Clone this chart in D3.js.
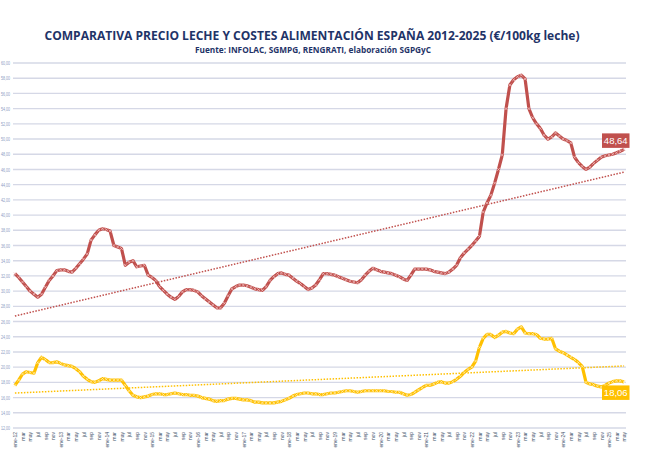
<!DOCTYPE html>
<html><head><meta charset="utf-8">
<script src="https://cdn.jsdelivr.net/npm/d3@7/dist/d3.min.js"></script>
<style>html,body{margin:0;padding:0;background:#fff;overflow:hidden}</style>
</head><body>
<svg id="chart" width="652" height="450"></svg>
<script>
const title = "COMPARATIVA PRECIO LECHE Y COSTES ALIMENTACIÓN ESPAÑA 2012-2025 (€/100kg leche)";
const subtitle = "Fuente: INFOLAC,  SGMPG,  RENGRATI,  elaboración  SGPGyC";
const monthNames = ["ene","feb","mar","abr","may","jun","jul","ago","sep","oct","nov","dic"];
const years = [12,13,14,15,16,17,18,19,20,21,22,23,24,25];
const yTicks = [12,14,16,18,20,22,24,26,28,30,32,34,36,38,40,42,44,46,48,50,52,54,56,58,60];

const milkPrice = [
 32.3,31.8,31.2,30.6,30.0,29.6,29.2,29.6,30.5,31.4,32.0,32.7,
 32.8,32.8,32.6,32.5,33.0,33.6,34.2,34.9,36.7,37.4,38.0,38.2,
 38.1,37.9,36.0,35.8,35.6,33.4,33.8,34.0,33.2,33.3,33.4,32.1,
 31.8,31.4,30.6,30.1,29.6,29.2,28.9,29.3,29.9,30.2,30.2,30.1,
 29.9,29.4,29.0,28.6,28.2,27.8,27.8,28.4,29.4,30.3,30.6,30.8,
 30.8,30.7,30.5,30.3,30.2,30.1,30.6,31.4,31.9,32.3,32.4,32.2,
 32.1,31.7,31.3,31.0,30.6,30.2,30.4,30.8,31.5,32.3,32.3,32.2,
 32.1,31.9,31.7,31.5,31.3,31.2,31.1,31.5,32.1,32.6,33.0,32.8,
 32.6,32.5,32.4,32.3,32.1,31.9,31.6,31.4,32.1,32.9,32.9,32.9,
 32.9,32.8,32.6,32.5,32.4,32.3,32.5,32.9,33.4,34.4,35.0,35.5,
 36.0,36.6,37.2,40.4,41.6,42.6,44.2,46.0,47.9,54.0,57.1,57.8,
 58.2,58.4,57.9,54.0,52.8,52.0,51.4,50.5,50.0,50.3,50.8,50.4,
 50.0,49.8,49.5,47.6,46.9,46.4,46.0,46.3,46.8,47.2,47.6,47.8,
 47.9,48.0,48.2,48.4,48.64
];
const feedCost = [
 17.6,18.3,19.1,19.4,19.3,19.2,20.6,21.3,21.0,20.6,20.6,20.7,
 20.5,20.3,20.2,20.1,19.8,19.4,18.8,18.4,18.1,18.0,18.2,18.5,
 18.4,18.3,18.3,18.3,18.3,17.6,16.9,16.3,16.1,16.0,16.1,16.2,
 16.4,16.5,16.5,16.4,16.4,16.5,16.6,16.5,16.4,16.4,16.3,16.3,
 16.2,16.0,15.9,15.8,15.6,15.5,15.6,15.6,15.8,15.9,15.9,15.8,
 15.7,15.7,15.6,15.4,15.4,15.3,15.3,15.3,15.3,15.4,15.5,15.7,
 15.9,16.2,16.4,16.5,16.6,16.6,16.5,16.5,16.4,16.4,16.5,16.6,
 16.6,16.7,16.8,16.9,16.9,16.8,16.7,16.8,16.9,16.9,16.9,16.9,
 16.9,16.9,16.8,16.8,16.7,16.7,16.5,16.3,16.4,16.7,17.0,17.3,
 17.6,17.6,17.8,18.0,18.1,17.9,17.9,18.1,18.4,18.8,19.3,19.7,
 20.0,20.8,22.6,23.8,24.3,24.3,23.9,24.2,24.6,24.7,24.5,24.4,
 25.0,25.3,24.5,24.4,24.4,24.3,23.8,23.7,23.7,23.8,22.4,22.1,
 21.9,21.6,21.3,21.0,20.6,20.1,18.0,17.8,17.7,17.5,17.4,17.6,
 17.9,18.1,18.2,18.2,18.06
];

// categories: every month ene-12 .. may-25
const categories = [];
years.forEach(yy => monthNames.forEach((m, k) => { if (categories.length < milkPrice.length) categories.push(k === 0 ? m + "-" + yy : m); }));

const svg = d3.select("#chart");
const pLeft = 13, pRight = 626, pTop = 63, pBottom = 428;

const x = d3.scalePoint().domain(d3.range(categories.length)).range([pLeft, pRight]).padding(0.5);
const y = d3.scaleLinear().domain([12, 60]).range([pBottom, pTop]);

// gridlines
svg.append("g").selectAll("line").data(yTicks).join("line")
  .attr("x1", pLeft).attr("x2", pRight)
  .attr("y1", d => y(d)).attr("y2", d => y(d))
  .attr("stroke", "#d5d8e6").attr("stroke-width", 1.4);

// y axis labels (squeezed into the narrow left margin)
const yAxis = d3.axisLeft(y).tickValues(yTicks).tickSize(0).tickPadding(0)
  .tickFormat(d => d3.format(".2f")(d).replace(".", ","));
const gy = svg.append("g").attr("transform", "translate(10,0)").call(yAxis);
gy.select(".domain").remove();
gy.selectAll("text").attr("fill", "#8a9bbf").attr("font-size", "5px")
  .attr("font-family", "Liberation Sans, Arial, sans-serif")
  .attr("textLength", 9).attr("lengthAdjust", "spacingAndGlyphs");

// x axis labels (every 2 months)
const xAxis = d3.axisBottom(x).tickValues(d3.range(0, categories.length, 2)).tickSize(0)
  .tickFormat(i => categories[i]);
const gx = svg.append("g").attr("transform", `translate(0,${pBottom})`).call(xAxis);
gx.select(".domain").remove();
gx.selectAll("text")
  .attr("fill", "#44546a").attr("font-size", "5px").attr("font-family", "Liberation Sans, Arial, sans-serif")
  .attr("text-anchor", "end").attr("dy", "0.35em").attr("y", 0)
  .attr("transform", "translate(0,4) rotate(-90)");

// trendlines (least squares on the data)
function trend(vals) {
  const n = vals.length, xs = d3.range(n);
  const mx = d3.mean(xs), my = d3.mean(vals);
  let sxy = 0, sxx = 0;
  xs.forEach((xi, k) => { sxy += (xi - mx) * (vals[k] - my); sxx += (xi - mx) ** 2; });
  const b = sxy / sxx, a = my - b * mx;
  return [[0, a], [n - 1, a + b * (n - 1)]];
}
const series = [
  { vals: milkPrice, color: "#c0504d", marker: "#f3c9c8", labelText: "48,64" },
  { vals: feedCost, color: "#ffc000", marker: "#fff0c0", labelText: "18,06" }
];
const line = d3.line().x((d, i) => x(i)).y(d => y(d));

series.forEach(s => {
  const t = trend(s.vals);
  svg.append("line")
    .attr("x1", x(t[0][0])).attr("y1", y(t[0][1]))
    .attr("x2", x(t[1][0])).attr("y2", y(t[1][1]))
    .attr("stroke", s.color).attr("stroke-width", 1.5).attr("stroke-dasharray", "1.5,1.5");
});

series.forEach(s => {
  svg.append("path").datum(s.vals).attr("d", line)
    .attr("fill", "none").attr("stroke", s.color).attr("stroke-width", 3.2)
    .attr("stroke-linejoin", "round");
  svg.append("g").selectAll("path").data(s.vals).join("path")
    .attr("transform", (d, i) => `translate(${x(i)},${y(d)})`)
    .attr("d", d3.symbol(d3.symbolX, 6))
    .attr("fill", "none").attr("stroke", s.marker).attr("stroke-width", 0.7);
});

// data labels for last points
series.forEach((s, k) => {
  const last = s.vals.length - 1;
  const cy = y(s.vals[last]);
  const bx = 602, by = k === 0 ? cy - 16 : cy + 3.5, bw = 27.5, bh = 14.5;
  svg.append("rect").attr("x", bx).attr("y", by).attr("width", bw).attr("height", bh).attr("fill", s.color);
  svg.append("text").attr("x", bx + bw / 2).attr("y", by + bh / 2 + 3.3)
    .attr("text-anchor", "middle").attr("fill", "#fff").attr("font-size", "9.5px")
    .attr("font-family", "Liberation Sans, Arial, sans-serif").text(s.labelText);
});

// titles
svg.append("text").attr("x", 312).attr("y", 40).attr("text-anchor", "middle")
  .attr("fill", "#1f3468").attr("font-weight", "bold").attr("font-size", "13px")
  .attr("font-family", "Open Sans, Liberation Sans, sans-serif")
  .attr("textLength", 535).attr("lengthAdjust", "spacingAndGlyphs").text(title);
svg.append("text").attr("x", 313).attr("y", 53).attr("text-anchor", "middle")
  .attr("fill", "#1f3468").attr("font-weight", "bold").attr("font-size", "8.5px")
  .attr("font-family", "Open Sans, Liberation Sans, sans-serif")
  .attr("textLength", 236).attr("lengthAdjust", "spacingAndGlyphs").text(subtitle);
</script>
</body></html>
